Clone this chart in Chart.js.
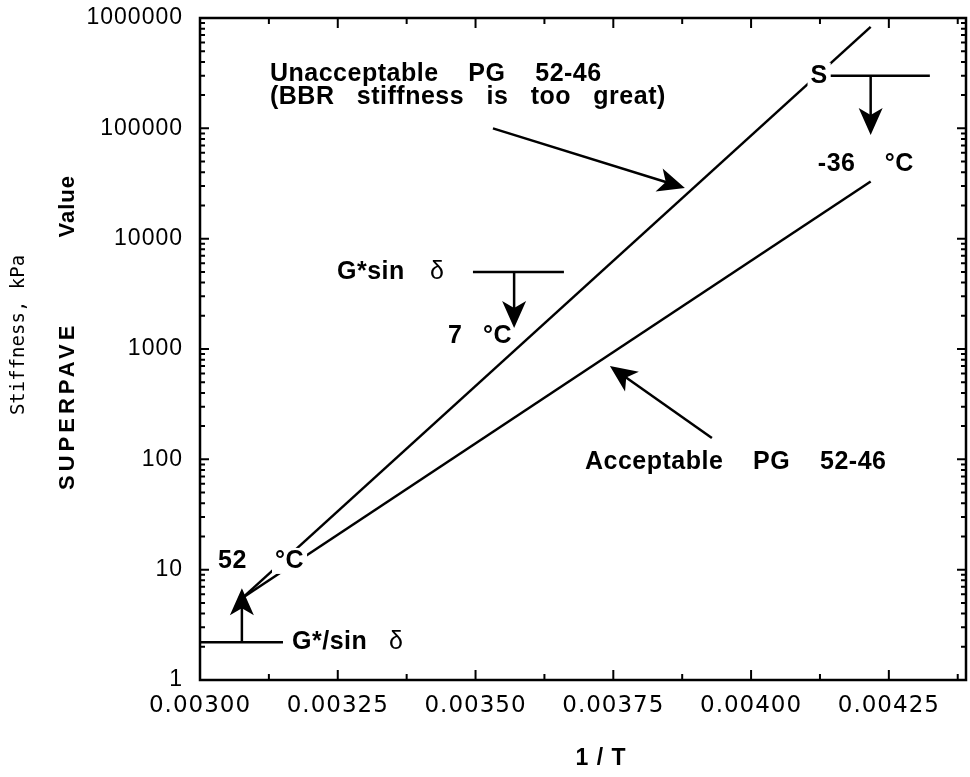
<!DOCTYPE html>
<html>
<head>
<meta charset="utf-8">
<script src="https://cdn.jsdelivr.net/npm/chart.js@4.4.0/dist/chart.umd.min.js"></script>
<style>
  html, body { margin: 0; padding: 0; background: #fff; }
  #wrap { width: 970px; height: 777px; }
</style>
</head>
<body>
<div id="wrap"><canvas id="stiffChart" width="970" height="777"></canvas></div>
<script>
// 1/T (1/K) at 52 °C and -36 °C, and the stiffness (kPa) of each grade line there
var invTemp = [0.003076, 0.004217];
var unacceptableStiff = [5.5, 830000];
var acceptableStiff = [5.5, 33000];

var xTicks = [0.003, 0.00325, 0.0035, 0.00375, 0.004, 0.00425];
var yTicks = [1, 10, 100, 1000, 10000, 100000, 1000000];

// spec limits: G*/sin d >= 2.2 kPa, G*sin d <= 5000 kPa, S <= 300 MPa
var limitLines = [
  { x1: 0.003, x2: 0.0031506, y: 2.2 },
  { x1: 0.0034953, x2: 0.0036604, y: 5000 },
  { x1: 0.0041375, x2: 0.0043244, y: 300000 }
];
var arrows = [
  { x1: 0.003076, y1: 2.2, x2: 0.003076, y2: 6.8 },
  { x1: 0.00357, y1: 5000, x2: 0.00357, y2: 1550 },
  { x1: 0.004217, y1: 300000, x2: 0.004217, y2: 87000 },
  { x1: 0.0035316, y1: 100000, x2: 0.0038799, y2: 28800 },
  { x1: 0.0039289, y1: 156, x2: 0.0037438, y2: 701 }
];
var labels = [
  { text: 'Unacceptable    PG    52-46', x: 0.003127, y: 311000 },
  { text: '(BBR   stiffness   is   too   great)', x: 0.003127, y: 190500 },
  { text: 'Acceptable    PG    52-46', x: 0.0036985, y: 94.6 },
  { text: 'S', x: 0.0041079, y: 300000, box: true },
  { text: '-36', x: 0.0041212, y: 47500 },
  { text: '°C', x: 0.0042427, y: 47500 },
  { text: 'G*sin', x: 0.0032486, y: 5000 },
  { text: 'δ', x: 0.0034172, y: 5000, light: true },
  { text: '7', x: 0.0034499, y: 1312 },
  { text: '°C', x: 0.0035134, y: 1312 },
  { text: '52', x: 0.0030327, y: 12 },
  { text: '°C', x: 0.0031361, y: 12, box: true },
  { text: 'G*/sin', x: 0.003167, y: 2.2 },
  { text: 'δ', x: 0.0033429, y: 2.2, light: true }
];

var BOLD = "bold 25px 'Liberation Sans', Arial, sans-serif";
var PLAIN = "25px 'Liberation Sans', Arial, sans-serif";

function arrowHead(ctx, x1, y1, x2, y2) {
  var a = Math.atan2(y2 - y1, x2 - x1);
  var len = 27, half = 12, notch = 7;
  ctx.save();
  ctx.translate(x2, y2);
  ctx.rotate(a);
  ctx.beginPath();
  ctx.moveTo(0, 0);
  ctx.lineTo(-len, -half);
  ctx.lineTo(-len + notch, 0);
  ctx.lineTo(-len, half);
  ctx.closePath();
  ctx.fill();
  ctx.restore();
}

// frame, inward ticks on all four sides, axis titles
var framePlugin = {
  id: 'frame',
  beforeDraw: function (chart) {
    chart.ctx.letterSpacing = '1px';
  },
  afterDraw: function (chart) {
    var ctx = chart.ctx, a = chart.chartArea;
    var xs = chart.scales.x, ys = chart.scales.y;
    ctx.save();
    ctx.strokeStyle = '#000';
    ctx.lineWidth = 2;
    ctx.beginPath();
    for (var d = 1; d < 1000000; d *= 10) {
      for (var m = 1; m <= 10; m++) {
        var py = ys.getPixelForValue(d * m);
        var len = (m === 1 || m === 10) ? 9 : 5;
        ctx.moveTo(a.left, py); ctx.lineTo(a.left + len, py);
        ctx.moveTo(a.right, py); ctx.lineTo(a.right - len, py);
      }
    }
    for (var i = 0; ; i++) {
      var v = 0.003 + i * 0.000125;
      if (v > xs.max) break;
      var px = xs.getPixelForValue(v);
      var tl = (i % 2 === 0) ? 10 : 6;
      ctx.moveTo(px, a.bottom); ctx.lineTo(px, a.bottom - tl);
      ctx.moveTo(px, a.top); ctx.lineTo(px, a.top + tl);
    }
    ctx.stroke();
    ctx.lineWidth = 2.5;
    ctx.strokeRect(a.left, a.top, a.right - a.left, a.bottom - a.top);

    ctx.fillStyle = '#000';
    ctx.textAlign = 'center';
    ctx.textBaseline = 'middle';
    ctx.font = "bold 23px 'Liberation Sans', Arial, sans-serif";
    ctx.fillText('1 / T', 601, 759);
    ctx.save();
    ctx.translate(19, 335);
    ctx.rotate(-Math.PI / 2);
    ctx.font = "19px 'DejaVu Sans Mono', monospace";
    ctx.letterSpacing = '0px';
    ctx.fillText('Stiffness, kPa', 0, 0);
    ctx.restore();
    ctx.save();
    ctx.translate(68, 0);
    ctx.rotate(-Math.PI / 2);
    ctx.font = "bold 22px 'Liberation Sans', Arial, sans-serif";
    ctx.letterSpacing = '4px';
    ctx.textAlign = 'left';
    ctx.fillText('SUPERPAVE', -490, 0);
    ctx.letterSpacing = '1px';
    ctx.textAlign = 'right';
    ctx.fillText('Value', -175, 0);
    ctx.restore();
    ctx.restore();
  }
};

// limit lines, arrows and text notes in data coordinates
var notesPlugin = {
  id: 'notes',
  afterDatasetsDraw: function (chart) {
    var ctx = chart.ctx;
    var xs = chart.scales.x, ys = chart.scales.y;
    ctx.save();
    ctx.strokeStyle = '#000';
    ctx.fillStyle = '#000';
    ctx.lineWidth = 2.5;
    limitLines.forEach(function (l) {
      var py = ys.getPixelForValue(l.y);
      ctx.beginPath();
      ctx.moveTo(xs.getPixelForValue(l.x1), py);
      ctx.lineTo(xs.getPixelForValue(l.x2), py);
      ctx.stroke();
    });
    arrows.forEach(function (r) {
      var x1 = xs.getPixelForValue(r.x1), y1 = ys.getPixelForValue(r.y1);
      var x2 = xs.getPixelForValue(r.x2), y2 = ys.getPixelForValue(r.y2);
      var ang = Math.atan2(y2 - y1, x2 - x1);
      ctx.beginPath();
      ctx.moveTo(x1, y1);
      ctx.lineTo(x2 - Math.cos(ang) * 15, y2 - Math.sin(ang) * 15);
      ctx.stroke();
      arrowHead(ctx, x1, y1, x2, y2);
    });
    ctx.textBaseline = 'middle';
    ctx.textAlign = 'left';
    ctx.letterSpacing = '0.5px';
    labels.forEach(function (t) {
      ctx.font = t.light ? PLAIN : BOLD;
      var px = xs.getPixelForValue(t.x), py = ys.getPixelForValue(t.y);
      if (t.box) {
        var w = ctx.measureText(t.text).width;
        ctx.fillStyle = '#fff';
        ctx.fillRect(px - 3, py - 13, w + 6, 26);
        ctx.fillStyle = '#000';
      }
      ctx.fillText(t.text, px, py);
    });
    ctx.restore();
  }
};

function linePoints(ys) {
  return invTemp.map(function (x, i) { return { x: x, y: ys[i] }; });
}

// keep the plot frame where the layout puts it, labels may overhang
function noOverhang(s) {
  s.paddingTop = 0;
  s.paddingBottom = 0;
  s.paddingLeft = 0;
  s.paddingRight = 0;
}

var stiffChart = new Chart(document.getElementById('stiffChart'), {
  type: 'scatter',
  data: {
    datasets: [
      {
        label: 'Unacceptable PG 52-46',
        data: linePoints(unacceptableStiff),
        showLine: true,
        borderColor: '#000',
        borderWidth: 2.5,
        pointRadius: 0
      },
      {
        label: 'Acceptable PG 52-46',
        data: linePoints(acceptableStiff),
        showLine: true,
        borderColor: '#000',
        borderWidth: 2.5,
        pointRadius: 0
      }
    ]
  },
  options: {
    responsive: false,
    animation: false,
    devicePixelRatio: 1,
    layout: { padding: { top: 18, right: 4, left: 0, bottom: 0 } },
    plugins: {
      legend: { display: false },
      tooltip: { enabled: false }
    },
    scales: {
      x: {
        type: 'linear',
        min: 0.003,
        max: 0.00439,
        afterFit: function (s) { s.height = 97; noOverhang(s); },
        afterBuildTicks: function (s) { s.ticks = xTicks.map(function (v) { return { value: v }; }); },
        ticks: {
          autoSkip: false,
          maxRotation: 0,
          padding: 12,
          color: '#000',
          font: { family: "'DejaVu Sans', sans-serif", size: 23 },
          callback: function (v) { return Number(v).toFixed(5); }
        },
        grid: { display: false, drawTicks: false },
        border: { display: false }
      },
      y: {
        type: 'logarithmic',
        min: 1,
        max: 1000000,
        afterFit: function (s) { s.width = 200; noOverhang(s); },
        afterBuildTicks: function (s) { s.ticks = yTicks.map(function (v) { return { value: v }; }); },
        ticks: {
          autoSkip: false,
          padding: 17,
          color: '#000',
          font: { family: "'Liberation Sans', Arial, sans-serif", size: 23 },
          callback: function (v) { return String(v); }
        },
        grid: { display: false, drawTicks: false },
        border: { display: false }
      }
    }
  },
  plugins: [framePlugin, notesPlugin]
});
</script>
</body>
</html>
